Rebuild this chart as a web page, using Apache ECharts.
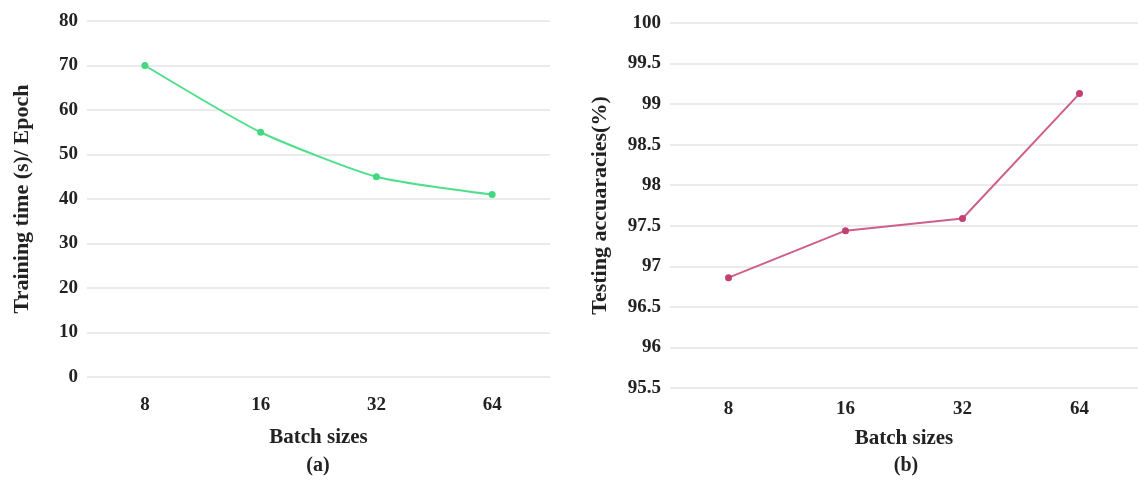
<!DOCTYPE html>
<html>
<head>
<meta charset="utf-8">
<script src="https://cdn.jsdelivr.net/npm/echarts@6/dist/echarts.min.js"></script>
<style>
  html, body { margin: 0; padding: 0; background: #ffffff; }
  #chart { width: 1138px; height: 481px; }
</style>
</head>
<body>
<div id="chart"></div>
<script>
// Batch sizes shared by both panels
const batchSizes = ['8', '16', '32', '64'];
// (a) training time per epoch, seconds
const trainingTime = [70, 55, 45, 41];
// (b) testing accuracy, percent
const testAccuracy = [96.86, 97.44, 97.59, 99.13];

const FONT = '"Liberation Serif", "DejaVu Serif", serif';
const labelStyle = { fontFamily: FONT, fontWeight: 'bold', fontSize: 19, color: '#222' };
const xNameStyle = { fontFamily: FONT, fontWeight: 'bold', fontSize: 21, color: '#222' };
const yNameStyle = { fontFamily: FONT, fontWeight: 'bold', fontSize: 22, color: '#222' };
const gridLine = { show: true, lineStyle: { color: '#e4e4e4', width: 1.5 } };

const chart = echarts.init(document.getElementById('chart'), null, { renderer: 'canvas' });

chart.setOption({
  backgroundColor: '#ffffff',
  animation: false,
  grid: [
    { left: 87, top: 21, width: 463, height: 356 },
    { left: 670, top: 23, width: 472, height: 365 }
  ],
  xAxis: [
    {
      gridIndex: 0, type: 'category', data: batchSizes, boundaryGap: true,
      axisLine: { show: false }, axisTick: { show: false },
      axisLabel: Object.assign({ margin: 19 }, labelStyle),
      name: 'Batch sizes', nameLocation: 'middle', nameGap: 50, nameTextStyle: xNameStyle
    },
    {
      gridIndex: 1, type: 'category', data: batchSizes, boundaryGap: true,
      axisLine: { show: false }, axisTick: { show: false },
      axisLabel: Object.assign({ margin: 12 }, labelStyle),
      name: 'Batch sizes', nameLocation: 'middle', nameGap: 40, nameTextStyle: xNameStyle
    }
  ],
  yAxis: [
    {
      gridIndex: 0, type: 'value', min: 0, max: 80, interval: 10,
      axisLine: { show: false }, axisTick: { show: false },
      splitLine: gridLine,
      axisLabel: Object.assign({ margin: 9 }, labelStyle),
      name: 'Training time (s)/ Epoch', nameLocation: 'middle', nameGap: 54,
      nameTextStyle: yNameStyle
    },
    {
      gridIndex: 1, type: 'value', min: 95.5, max: 100, interval: 0.5,
      axisLine: { show: false }, axisTick: { show: false },
      splitLine: gridLine,
      axisLabel: Object.assign({ margin: 9 }, labelStyle),
      name: 'Testing accuaracies(%)', nameLocation: 'middle', nameGap: 59,
      nameTextStyle: yNameStyle
    }
  ],
  series: [
    {
      type: 'line', xAxisIndex: 0, yAxisIndex: 0, data: trainingTime,
      smooth: 0.2, symbol: 'circle', symbolSize: 7,
      lineStyle: { color: '#4fdf8c', width: 2 },
      itemStyle: { color: '#40d880' }
    },
    {
      type: 'line', xAxisIndex: 1, yAxisIndex: 1, data: testAccuracy,
      symbol: 'circle', symbolSize: 7,
      lineStyle: { color: '#cf5f8a', width: 2 },
      itemStyle: { color: '#c43f74' }
    }
  ],
  graphic: [
    {
      type: 'text', x: 318, y: 466,
      style: { text: '(a)', font: 'bold 20px ' + FONT, fill: '#222', align: 'center', verticalAlign: 'middle' }
    },
    {
      type: 'text', x: 906, y: 466,
      style: { text: '(b)', font: 'bold 20px ' + FONT, fill: '#222', align: 'center', verticalAlign: 'middle' }
    }
  ]
});
</script>
</body>
</html>
